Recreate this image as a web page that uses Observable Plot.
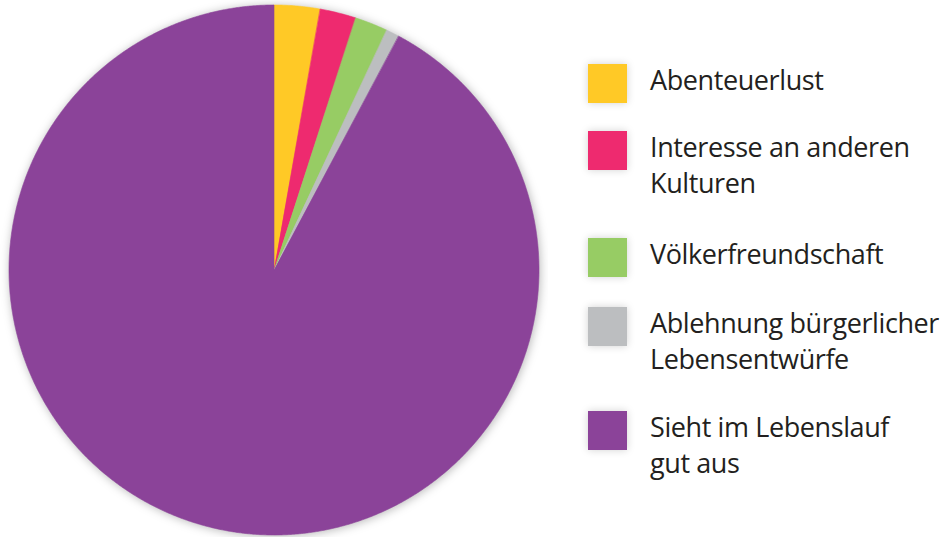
<!DOCTYPE html>
<html>
<head>
<meta charset="utf-8">
<script src="https://cdn.jsdelivr.net/npm/d3@7"></script>
<script src="https://cdn.jsdelivr.net/npm/@observablehq/plot@0.6"></script>
<style>
  html, body { margin: 0; padding: 0; background: #fff; }
  #wrap { position: relative; width: 952px; height: 537px; overflow: hidden; }
  #chart { position: absolute; left: 0; top: 0; }
  #chart svg .slices { filter: drop-shadow(1px 1px 5px rgba(0,0,0,0.28)); }
  #legend { position: absolute; left: 588px; top: 0; font-family: "Open Sans", sans-serif; color: #231f20; }
  .item { position: absolute; left: 0; white-space: nowrap; }
  .sw { position: absolute; left: 0; top: 0; width: 39px; height: 39px; box-shadow: 0 0 8px rgba(0,0,0,0.18); }
  .lab { position: absolute; left: 62px; top: -2px; font-size: 27px; line-height: 36px; letter-spacing: -0.4px; }
</style>
</head>
<body>
<div id="wrap"><div id="chart"></div><div id="legend"></div></div>
<script>
const categories = ["Abenteuerlust", "Interesse an anderen Kulturen", "Völkerfreundschaft", "Ablehnung bürgerlicher Lebensentwürfe", "Sieht im Lebenslauf gut aus"];
const labelLines = [["Abenteuerlust"], ["Interesse an anderen", "Kulturen"], ["Völkerfreundschaft"], ["Ablehnung bürgerlicher", "Lebensentwürfe"], ["Sieht im Lebenslauf", "gut aus"]];
const values = [2.8, 2.2, 2.0, 0.8, 92.2];
const colors = ["#FFC926", "#EE2A6F", "#97CC64", "#BCBEC0", "#8B4399"];

// pie angles from the values (clockwise, starting at the top)
const arcs = d3.pie().sort(null).value(d => d.value)(categories.map((c, i) => ({cat: c, value: values[i]})));
const pts = [];
for (const a of arcs) {
  const n = Math.max(2, Math.ceil((a.endAngle - a.startAngle) / (Math.PI / 720)));
  for (let k = 0; k <= n; k++) {
    const t = a.startAngle + (a.endAngle - a.startAngle) * k / n;
    pts.push({cat: a.data.cat, x: Math.sin(t), y: Math.cos(t)});
  }
}

const plot = Plot.plot({
  width: 548, height: 537,
  marginLeft: 9, marginRight: 9, marginTop: 5, marginBottom: 2,
  x: {domain: [-1, 1], axis: null},
  y: {domain: [-1, 1], axis: null},
  color: {domain: categories, range: colors},
  marks: [
    Plot.area(pts, {x1: "x", y1: "y", x2: 0, y2: 0, z: "cat", fill: "cat", stroke: "cat", strokeWidth: 0.6, curve: "linear", className: "slices"})
  ]
});
document.getElementById("chart").appendChild(plot);

const tops = [64, 131, 238, 307, 411];
const legend = document.getElementById("legend");
categories.forEach((c, i) => {
  const it = document.createElement("div");
  it.className = "item";
  it.style.top = tops[i] + "px";
  const sw = document.createElement("div");
  sw.className = "sw";
  sw.style.background = plot.scale("color").apply(c);
  const lab = document.createElement("div");
  lab.className = "lab";
  lab.innerHTML = labelLines[i].join("<br>");
  it.appendChild(sw); it.appendChild(lab);
  legend.appendChild(it);
});
</script>
</body>
</html>
